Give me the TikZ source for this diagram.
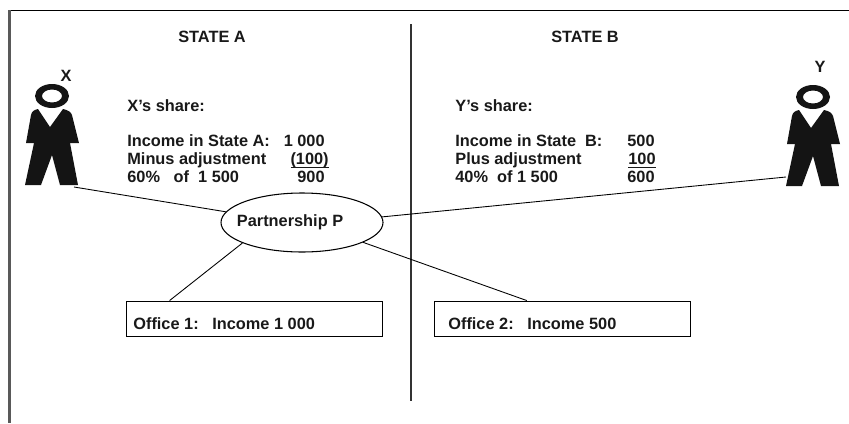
\documentclass[tikz,border=0pt]{standalone}
\usepackage{fontspec}
\setmainfont{Liberation Sans}
\usetikzlibrary{shapes.geometric}
\tikzset{
  label text/.style={font=\bfseries\fontsize{9.3}{11}\selectfont, inner sep=0pt, text=black!90, anchor=base},
  left text/.style={label text, anchor=base west},
  right text/.style={label text, anchor=base east},
  officebox/.style={draw, line width=0.5pt, minimum width=256*0.02cm, minimum height=35*0.02cm, inner sep=0pt},
  partner/.style={ellipse, draw, line width=0.6pt, minimum width=162*0.02cm, minimum height=59*0.02cm, inner sep=0pt, label text, anchor=center},
  link/.style={line width=0.5pt},
  pics/person/.style={code={
    \fill[black!92,even odd rule] (0,0) ellipse (17 and 12) (0,0) ellipse (10 and 6.5);
    \fill[black!92] (-14,13) -- (-2,31) -- (11,13) .. controls (16,14) and (19,16) .. (20,19)
      -- (27,47) -- (18,47) -- (26,89) -- (8,89) -- (0,59) -- (-11,89) -- (-27,89)
      -- (-18,47) -- (-26,47) -- (-21,19) .. controls (-20,15) and (-18,14) .. (-14,13) -- cycle;
  }}
}
\begin{document}
\begin{tikzpicture}[x=0.02cm,y=-0.02cm]
\useasboundingbox (0,0) rectangle (849,423);
% frame and border between the states
\draw[line width=0.5pt] (9,10) -- (849,10);
\draw[line width=1.8pt,black!65] (9.5,10) -- (9.5,423);
\draw[line width=1.1pt,black!80] (411,24) -- (411,401);
\node[label text] (stateA) at (212,42) {STATE A};
\node[label text] (stateB) at (585,42) {STATE B};
% the two partners
\pic at (52,96) {person};
\pic at (813,97) {person};
\node[label text] (nameX) at (66,81) {X};
\node[label text] (nameY) at (820,72) {Y};
\coordinate (footX) at (74,187);
\coordinate (footY) at (786,177);
% shares
\node[left text] (shareX) at (127,111) {X's share:};
\node[left text] (incomeA) at (127,146) {Income in State A:};
\node[left text] (minus) at (127,164.5) {Minus adjustment};
\node[left text] (percentA) at (127,182) {60\%\ \ \ of\ \ 1 500};
\node[right text] (valA1) at (325,146) {1 000};
\node[right text] (valA2) at (329,164.5) {\underline{\smash{(100)}}};
\node[right text] (valA3) at (325,182) {900};
\node[left text] (shareY) at (455,111) {Y's share:};
\node[left text] (incomeB) at (455,146) {Income in State\ \ B:};
\node[left text] (plus) at (455,164.5) {Plus adjustment};
\node[left text] (percentB) at (455,182) {40\%\ \ of 1 500};
\node[right text] (valB1) at (655,146) {500};
\node[right text] (valB2) at (656,164.5) {\underline{\smash{100}}};
\node[right text] (valB3) at (655,182) {600};
% partnership and offices
\node[partner] (partnership) at (302,222.5) {\makebox[0pt]{Partnership P\kern13.6pt}};
\node[officebox] (office1) at (254,318.5) {};
\node[officebox] (office2) at (562,318.5) {};
\node[left text] (text1) at (133,329) {Office 1:\ \ \ Income 1 000};
\node[left text] (text2) at (448,329) {Office 2:\ \ \ Income 500};
\draw[link] (footX) -- (partnership.172);
\draw[link] (footY) -- (partnership.4);
\draw[link] (partnership.199) -- (office1.168);
\draw[link] (partnership.-18) -- (office2.153);
\end{tikzpicture}
\end{document}
